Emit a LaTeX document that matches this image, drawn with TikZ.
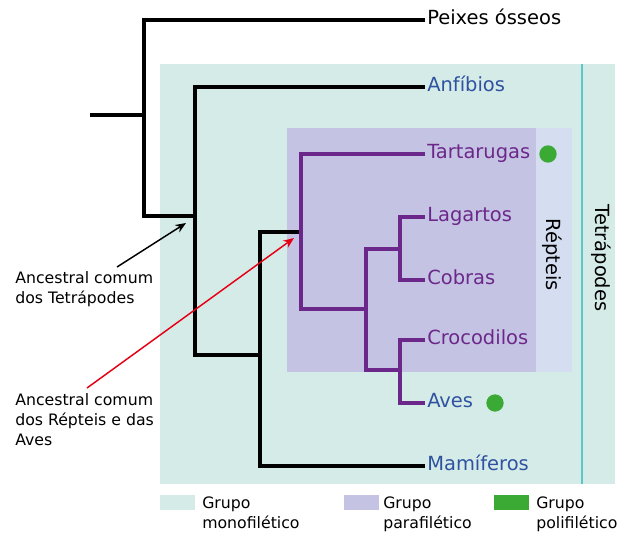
\documentclass[tikz,border=0pt]{standalone}
\usepackage{fontspec}
\setmainfont{DejaVu Sans}
\usetikzlibrary{arrows.meta,positioning}
\definecolor{mono}{RGB}{213,235,232}
\definecolor{para}{RGB}{197,195,227}
\definecolor{repblue}{RGB}{213,222,240}
\definecolor{purp}{RGB}{107,40,138}
\definecolor{blueT}{RGB}{47,82,160}
\definecolor{poly}{RGB}{58,170,53}
\definecolor{tealline}{RGB}{90,200,200}
\definecolor{redarrow}{RGB}{230,0,20}

\begin{document}
\begin{tikzpicture}[
  x=0.75pt,y=-0.75pt,
  font=\fontsize{14.6}{17}\selectfont,
  branch/.style={line width=2.3pt},
  taxon/.style={anchor=west,inner xsep=1.5pt,inner ysep=0pt,text height=0.73em,text depth=0pt},
  note/.style={align=left,inner sep=0pt,font=\fontsize{11.8}{15}\selectfont},
  swatch/.style={minimum width=26.25pt,minimum height=11.25pt,inner sep=0pt},
  dot/.style={circle,fill=poly,minimum size=13pt,inner sep=0pt},
  pointer/.style={->,line width=1.1pt},
  >={Stealth[length=8pt,width=6.5pt]}
]
\useasboundingbox (0,0) rectangle (627,532);

% group backgrounds
\fill[mono] (160,64) rectangle (615,484);
\fill[repblue] (536,128) rectangle (572,372);
\fill[para] (287,128) rectangle (536,372);
\draw[tealline,line width=1.1pt] (582,64) -- (582,484);

% taxa
\node[taxon] (peixes) at (425,20) {Peixes ósseos};
\node[taxon,text=blueT] (anf) at (425,87) {Anfíbios};
\node[taxon,text=purp] (tar) at (425,154) {Tartarugas};
\node[taxon,text=purp] (lag) at (425,217) {Lagartos};
\node[taxon,text=purp] (cob) at (425,280) {Cobras};
\node[taxon,text=purp] (cro) at (425,340) {Crocodilos};
\node[taxon,text=blueT] (aves) at (425,403) {Aves};
\node[taxon,text=blueT] (mam) at (425,466) {Mamíferos};

\node[dot] (dtar) at (548,154) {};
\node[dot] (daves) at (495,403) {};

\node[rotate=-90] (rep) at (552.5,254.5) {Répteis};
\node[rotate=-90] (tetra) at (601.5,258) {Tetrápodes};

% tree
\coordinate (stub) at (90,115);
\coordinate (nO) at (144,115);
\coordinate (nT) at (195,216);
\coordinate (nA) at (260,355);
\coordinate (nR) at (301,232);
\coordinate (nS) at (366,309);
\coordinate (nL) at (400,249);
\coordinate (nC) at (400,370);

\draw[branch] (stub) -- (nO);
\draw[branch] (peixes.west) -| (nO) |- (nT);
\draw[branch] (anf.west) -| (nT) |- (nA);
\draw[branch] (nR) -| (nA) |- (mam.west);
\draw[branch,purp] (tar.west) -| (nR) |- (nS);
\draw[branch,purp] (nL) -| (nS) |- (nC);
\draw[branch,purp] (lag.west) -| (nL) |- (cob.west);
\draw[branch,purp] (cro.west) -| (nC) |- (aves.west);

% ancestors
\node[note,anchor=north west] (ancT) at (15,271) {Ancestral comum\\dos Tetrápodes};
\node[note,anchor=north west] (ancR) at (15,393) {Ancestral comum\\dos Répteis e das\\Aves};
\coordinate (fromT) at (117,267);
\coordinate (tipT) at (186,223);
\coordinate (fromR) at (87,388);
\coordinate (tipR) at (294,238);
\draw[pointer] (fromT) -- (tipT);
\draw[pointer,redarrow] (fromR) -- (tipR);

% legend
\node[swatch,fill=mono] (kmono) at (177.5,502.5) {};
\node[swatch,fill=para] (kpara) at (361.5,502.5) {};
\node[swatch,fill=poly] (kpoly) at (511.5,502.5) {};
\node[note,anchor=north west] (tmono) at (202,497) {Grupo\\monofilético};
\node[note,anchor=north west] (tpara) at (383,497) {Grupo\\parafilético};
\node[note,anchor=north west] (tpoly) at (536,497) {Grupo\\polifilético};
\end{tikzpicture}
\end{document}
